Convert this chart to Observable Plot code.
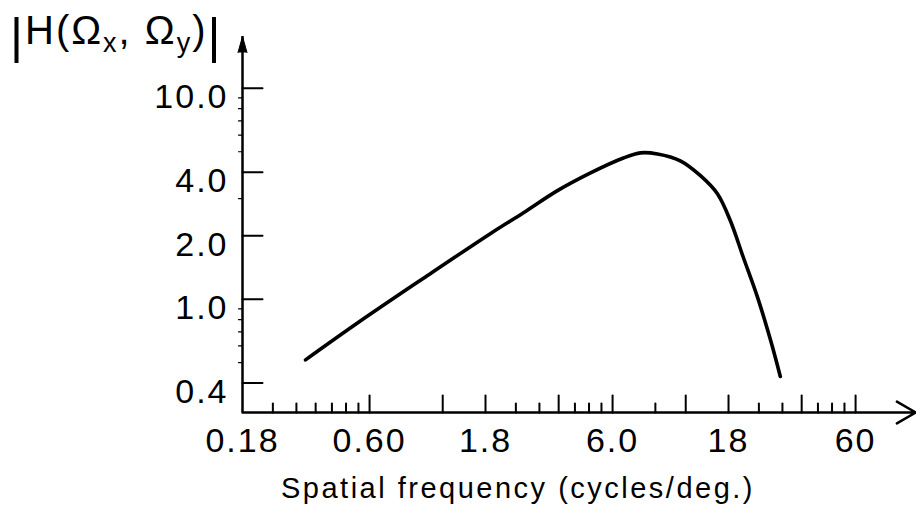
<!DOCTYPE html>
<html>
<head>
<meta charset="utf-8">
<script src="https://cdn.jsdelivr.net/npm/d3@7"></script>
<script src="https://cdn.jsdelivr.net/npm/@observablehq/plot@0.6"></script>
<style>
  html, body { margin: 0; padding: 0; background: #fff; }
  #chart { position: relative; width: 916px; height: 513px; }
</style>
</head>
<body>
<div id="chart"></div>
<script>
// ---- data ----
const curveFreq = [0.327, 0.535, 1.0, 1.89, 2.58, 3.56, 4.87, 6.65, 7.82, 9.18, 11.4, 13.8, 16.2, 18.3, 20.7, 23.7, 26.8, 29.4];
const curveGain = [0.515, 0.77, 1.256, 2.05, 2.57, 3.27, 3.97, 4.67, 4.94, 4.88, 4.53, 3.85, 3.16, 2.36, 1.58, 1.02, 0.64, 0.43];

const xTickValues = [0.18, 0.6, 1.8, 6, 18, 60];
const xTickLabels = ["0.18", "0.60", "1.8", "6.0", "18", "60"];
const xMajorMarks = [0.6, 1.2, 1.8, 3.6, 6, 12, 18, 36, 60];
const xMinorMarks = [0.24, 0.3, 0.36, 0.42, 0.48, 0.54, 2.4, 3.0, 4.2, 4.8, 5.4, 9, 24, 30, 42, 48, 54];

const yTickValues = [0.4, 1, 2, 4, 10];
const yTickLabels = ["0.4", "1.0", "2.0", "4.0", "10.0"];
const yMinorMarks = [0.5, 0.6, 0.7, 0.8, 0.9, 3, 5, 6, 7, 8, 9];

const xLabel = "Spatial frequency (cycles/deg.)";

// axis extents
const xMin = 0.18, xMax = 100, xEnd = 106;
const yMin = 0.29, yMax = 17.6;

const curve = curveFreq.map((f, i) => ({f, g: curveGain[i]}));

const tickShape = { draw(ctx, l) { ctx.moveTo(0, 0); ctx.lineTo(0, -l); } };
const FONT = "'Liberation Sans', Arial, Helvetica, sans-serif";

const plot = Plot.plot({
  width: 916,
  height: 513,
  marginLeft: 242,
  marginRight: 7,
  marginTop: 36,
  marginBottom: 101,
  x: {type: "log", domain: [xMin, xMax], axis: null},
  y: {type: "log", domain: [yMin, yMax], axis: null},
  style: {fontFamily: FONT, background: "white", color: "black", overflow: "visible"},
  marks: [
    // x axis with open arrow
    Plot.arrow([0], {x1: () => xMin, y1: () => yMin, x2: () => xEnd, y2: () => yMin,
      stroke: "black", strokeWidth: 2.5, headLength: 13, bend: 0}),
    // y axis with filled arrowhead
    Plot.ruleX([xMin], {x: d => d, y1: () => yMin, y2: () => yMax, stroke: "black", strokeWidth: 2.5}),
    Plot.vector([xMin], {x: d => d, y: () => yMax, anchor: "end", length: 16, shape: "spike", r: 4.5,
      fill: "black", stroke: "black", strokeWidth: 1}),
    // x ticks (pointing up)
    Plot.vector(xMajorMarks, {x: d => d, y: () => yMin, anchor: "start", length: 17, rotate: 0,
      shape: tickShape, stroke: "black", strokeWidth: 2}),
    Plot.vector(xMinorMarks, {x: d => d, y: () => yMin, anchor: "start", length: 9, rotate: 0,
      shape: tickShape, stroke: "black", strokeWidth: 2}),
    // y ticks (pointing right)
    Plot.vector(yTickValues, {x: () => xMin, y: d => d, anchor: "start", length: 20, rotate: 90,
      shape: tickShape, stroke: "black", strokeWidth: 2}),
    Plot.vector(yMinorMarks, {x: () => xMin, y: d => d, anchor: "start", length: 4, rotate: -90,
      shape: tickShape, stroke: "black", strokeWidth: 1.2}),
    // tick labels
    Plot.text(xTickValues, {x: d => d, y: () => yMin, text: (d, i) => xTickLabels[i],
      dy: 29, fontSize: 34, lineAnchor: "middle", fill: "black"}),
    Plot.text(yTickValues, {x: () => xMin, y: d => d, text: (d, i) => yTickLabels[i],
      textAnchor: "end", dx: -14, dy: 9, fontSize: 34, lineAnchor: "middle", fill: "black"}),
    // x axis label
    Plot.text([xLabel], {frameAnchor: "bottom", text: d => d, dx: -58, dy: 76, fontSize: 29,
      lineAnchor: "middle", fill: "black"}),
    // curve
    Plot.line(curve, {x: "f", y: "g", curve: "catmull-rom", stroke: "black", strokeWidth: 3.6,
      strokeLinecap: "round", strokeLinejoin: "round"})
  ]
});

const svg = d3.select(plot);
svg.selectAll('g[font-size="34"] text').style("letter-spacing", "2px");
svg.selectAll('g[font-size="29"] text').style("letter-spacing", "2.5px");

// y-axis title |H(Ωx, Ωy)|
const t = svg.append("text")
  .attr("x", 10).attr("y", 53)
  .attr("text-anchor", "start")
  .attr("fill", "black")
  .style("font-family", FONT)
  .style("font-size", "40px")
  .style("letter-spacing", "2px");
t.append("tspan").style("font-size", "50px").text("|");
t.append("tspan").attr("dy", -9).text("H(Ω");
t.append("tspan").attr("dy", 8).style("font-size", "27px").text("x");
t.append("tspan").attr("dy", -8).text(", Ω");
t.append("tspan").attr("dy", 8).style("font-size", "27px").text("y");
t.append("tspan").attr("dy", -8).text(")");
t.append("tspan").attr("dy", 9).style("font-size", "50px").text("|");

document.getElementById("chart").appendChild(plot);
</script>
</body>
</html>
